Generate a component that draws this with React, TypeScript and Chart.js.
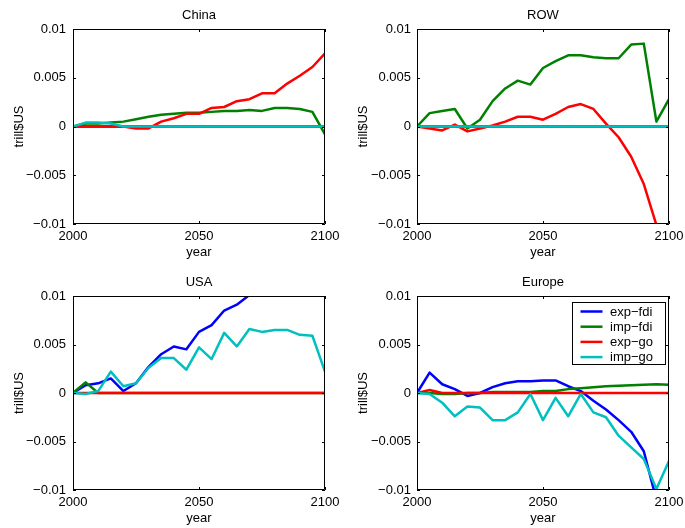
import React, { useEffect, useRef } from 'react';
import { Chart, registerables } from 'chart.js';

Chart.register(...registerables);

const FONT = '"Liberation Sans", Arial, Helvetica, sans-serif';

const years = [2000, 2005, 2010, 2015, 2020, 2025, 2030, 2035, 2040, 2045, 2050, 2055, 2060, 2065, 2070, 2075, 2080, 2085, 2090, 2095, 2100];

const seriesNames = ['exp−fdi', 'imp−fdi', 'exp−go', 'imp−go'];
const seriesColors = ['#0000ff', '#008000', '#ff0000', '#00bfbf'];

const xTicks = [2000, 2050, 2100];
const xTickLabels = ['2000', '2050', '2100'];
const yTicks = [0.01, 0.005, 0, -0.005, -0.01];
const yTickLabels = ['0.01', '0.005', '0', '−0.005', '−0.01'];

const panelTitles = ['China', 'ROW', 'USA', 'Europe'];
const xAxisLabel = 'year';
const yAxisLabel = 'trill$US';

// China
const chinaExpFdi = [0, 0, 0, 0, 0, 0, 0, 0, 0, 0, 0, 0, 0, 0, 0, 0, 0, 0, 0, 0, 0];
const chinaImpFdi = [0, 0.0003, 0.0003, 0.0004, 0.0005, 0.00075, 0.001, 0.0012, 0.0013, 0.0014, 0.0014, 0.0015, 0.0016, 0.0016, 0.0017, 0.0016, 0.0019, 0.0019, 0.0018, 0.0015, -0.0008];
const chinaExpGo = [0, 0, 0, 0, 0, -0.0002, -0.0002, 0.0005, 0.00085, 0.0013, 0.0013, 0.0019, 0.002, 0.0026, 0.0028, 0.0034, 0.0034, 0.0044, 0.0052, 0.0061, 0.0075];
const chinaImpGo = [0, 0.0004, 0.0004, 0.0003, 0, 0, 0, 0, 0, 0, 0, 0, 0, 0, 0, 0, 0, 0, 0, 0, 0];

// ROW
const rowExpFdi = [0, 0, 0, 0, 0, 0, 0, 0, 0, 0, 0, 0, 0, 0, 0, 0, 0, 0, 0, 0, 0];
const rowImpFdi = [0, 0.00137, 0.0016, 0.0018, -0.0002, 0.0007, 0.0026, 0.0039, 0.0047, 0.0043, 0.006, 0.0067, 0.0073, 0.0073, 0.0071, 0.007, 0.007, 0.0084, 0.0085, 0.0005, 0.0028];
const rowExpGo = [0, -0.0002, -0.0004, 0.0002, -0.0005, -0.0002, 0.0001, 0.0005, 0.001, 0.001, 0.0007, 0.0013, 0.002, 0.0023, 0.0018, 0.0003, -0.0011, -0.0031, -0.0059, -0.0101, -0.016];
const rowImpGo = [0, 0, 0, 0, 0, 0, 0, 0, 0, 0, 0, 0, 0, 0, 0, 0, 0, 0, 0, 0, 0];

// USA
const usaExpFdi = [0, 0.0008, 0.001, 0.0015, 0.0002, 0.001, 0.0027, 0.004, 0.0048, 0.0045, 0.0063, 0.007, 0.0085, 0.0091, 0.0101, 0.0108, 0.0115, 0.012, 0.0126, 0.013, 0.0134];
const usaImpFdi = [0, 0.0011, 0, 0, 0, 0, 0, 0, 0, 0, 0, 0, 0, 0, 0, 0, 0, 0, 0, 0, 0];
const usaExpGo = [0, 0, 0, 0, 0, 0, 0, 0, 0, 0, 0, 0, 0, 0, 0, 0, 0, 0, 0, 0, 0];
const usaImpGo = [0, -0.0001, 0.0002, 0.0022, 0.0007, 0.001, 0.0026, 0.0036, 0.0036, 0.0024, 0.0047, 0.0035, 0.0062, 0.0048, 0.0066, 0.0063, 0.0065, 0.0065, 0.006, 0.0059, 0.0022];

// Europe
const eurExpFdi = [0, 0.0021, 0.0009, 0.0004, -0.0003, 0, 0.0006, 0.001, 0.0012, 0.0012, 0.0013, 0.0013, 0.0007, 0.0002, -0.0008, -0.0017, -0.0028, -0.004, -0.006, -0.011, -0.0125];
const eurImpFdi = [0, 0, -0.0001, -0.0001, 0, 0, 0.0001, 0.0001, 0.0001, 0.0001, 0.0002, 0.0002, 0.0004, 0.0005, 0.0006, 0.0007, 0.00075, 0.0008, 0.00085, 0.0009, 0.00085];
const eurExpGo = [0, 0.0003, 0, 0, 0, 0, 0, 0, 0, 0, 0, 0, 0, 0, 0, 0, 0, 0, 0, 0, 0];
const eurImpGo = [0, -0.0001, -0.001, -0.0024, -0.0014, -0.0015, -0.0028, -0.0028, -0.002, -0.0001, -0.0028, -0.0005, -0.0024, -0.0001, -0.002, -0.0025, -0.0044, -0.0056, -0.0068, -0.0099, -0.007];

type Rect = { l: number; t: number; r: number; b: number };
type PanelDef = {
  title: string;
  series: number[][];
  x: number; y: number; w: number; h: number;
  plot: Rect;
  yPad: number;
  legend: boolean;
};

const panels: PanelDef[] = [
  { title: panelTitles[0], series: [chinaExpFdi, chinaImpFdi, chinaExpGo, chinaImpGo], x: 0, y: 0, w: 342, h: 264, plot: { l: 73, t: 29, r: 325, b: 224 }, yPad: 7, legend: false },
  { title: panelTitles[1], series: [rowExpFdi, rowImpFdi, rowExpGo, rowImpGo], x: 342, y: 0, w: 343, h: 264, plot: { l: 75, t: 29, r: 327, b: 224 }, yPad: 6, legend: false },
  { title: panelTitles[2], series: [usaExpFdi, usaImpFdi, usaExpGo, usaImpGo], x: 0, y: 264, w: 342, h: 264, plot: { l: 73, t: 32, r: 325, b: 226 }, yPad: 7, legend: false },
  { title: panelTitles[3], series: [eurExpFdi, eurImpFdi, eurExpGo, eurImpGo], x: 342, y: 264, w: 343, h: 264, plot: { l: 75, t: 32, r: 327, b: 226 }, yPad: 6, legend: true },
];

function framePlugin(p: PanelDef) {
  return {
    id: 'matlabFrame',
    afterDatasetsDraw(chart: any) {
      const { ctx, chartArea: a, scales } = chart;
      ctx.save();
      ctx.strokeStyle = '#000';
      ctx.lineWidth = 1;
      ctx.beginPath();
      ctx.rect(a.left + 0.5, a.top + 0.5, a.right - a.left - 1, a.bottom - a.top - 1);
      ctx.stroke();
      // inward ticks
      ctx.beginPath();
      for (const v of xTicks) {
        const px = Math.round(scales.x.getPixelForValue(v)) + 0.5;
        ctx.moveTo(px, a.bottom); ctx.lineTo(px, a.bottom - 3);
        ctx.moveTo(px, a.top); ctx.lineTo(px, a.top + 3);
      }
      for (const v of yTicks) {
        const py = Math.round(scales.y.getPixelForValue(v)) + 0.5;
        ctx.moveTo(a.left, py); ctx.lineTo(a.left + 3, py);
        ctx.moveTo(a.right, py); ctx.lineTo(a.right - 3, py);
      }
      ctx.stroke();

      ctx.fillStyle = '#000';
      ctx.font = `13px ${FONT}`;
      ctx.textAlign = 'center';
      ctx.textBaseline = 'alphabetic';
      const cx = (a.left + a.right) / 2;
      ctx.fillText(p.title, cx, a.top - 10);
      ctx.fillText(xAxisLabel, cx, a.bottom + 32);
      ctx.save();
      ctx.translate(a.left - 50, (a.top + a.bottom) / 2);
      ctx.rotate(-Math.PI / 2);
      ctx.fillText(yAxisLabel, 0, 0);
      ctx.restore();

      if (p.legend) {
        const ds = chart.data.datasets;
        const bw = 94, bh = 63;
        const bx = a.right - 3 - bw;
        const by = a.top + 6;
        ctx.fillStyle = '#fff';
        ctx.fillRect(bx, by, bw, bh);
        ctx.strokeStyle = '#000';
        ctx.lineWidth = 1;
        ctx.strokeRect(bx + 0.5, by + 0.5, bw - 1, bh - 1);
        ctx.textAlign = 'left';
        ctx.textBaseline = 'middle';
        ds.forEach((d: any, i: number) => {
          const ry = by + 9.5 + i * 15.2;
          ctx.strokeStyle = d.borderColor;
          ctx.lineWidth = 2.5;
          ctx.beginPath();
          ctx.moveTo(bx + 8.5, ry);
          ctx.lineTo(bx + 30.5, ry);
          ctx.stroke();
          ctx.fillStyle = '#000';
          ctx.fillText(d.label, bx + 38, ry + 0.5);
        });
      }
      ctx.restore();
    },
  };
}

function zeroPadding(s: any) {
  s.paddingLeft = 0;
  s.paddingRight = 0;
  s.paddingTop = 0;
  s.paddingBottom = 0;
}

function Panel({ p }: { p: PanelDef }) {
  const ref = useRef<HTMLCanvasElement | null>(null);
  useEffect(() => {
    if (!ref.current) return;
    const datasets = p.series.map((vals, i) => ({
      label: seriesNames[i],
      data: years.map((yr, j) => ({ x: yr, y: vals[j] })),
      borderColor: seriesColors[i],
      backgroundColor: seriesColors[i],
      borderWidth: 2.5,
      pointRadius: 0,
      tension: 0,
      fill: false,
      clip: 0,
      order: 4 - i,
      borderJoinStyle: 'round' as const,
    }));
    const chart = new Chart(ref.current, {
      type: 'line',
      data: { datasets },
      options: {
        animation: false,
        responsive: false,
        maintainAspectRatio: false,
        events: [],
        layout: {
          autoPadding: false,
          padding: { left: 0, top: p.plot.t, right: p.w - p.plot.r, bottom: 0 },
        },
        plugins: { legend: { display: false }, title: { display: false }, tooltip: { enabled: false } },
        scales: {
          x: {
            type: 'linear',
            min: 2000,
            max: 2100,
            grid: { display: false, drawTicks: false, tickLength: 0 },
            border: { display: false },
            afterBuildTicks: (s: any) => { s.ticks = xTicks.map((v) => ({ value: v })); },
            afterFit: (s: any) => { s.height = p.h - p.plot.b; zeroPadding(s); },
            ticks: {
              color: '#000',
              font: { family: FONT, size: 13 },
              padding: 5,
              maxRotation: 0,
              autoSkip: false,
              callback: (v: any) => xTickLabels[xTicks.indexOf(Number(v))] ?? '',
            },
          },
          y: {
            type: 'linear',
            min: -0.01,
            max: 0.01,
            grid: { display: false, drawTicks: false, tickLength: 0 },
            border: { display: false },
            afterBuildTicks: (s: any) => { s.ticks = yTicks.map((v) => ({ value: v })); },
            afterFit: (s: any) => { s.width = p.plot.l; zeroPadding(s); },
            ticks: {
              color: '#000',
              font: { family: FONT, size: 13 },
              padding: p.yPad,
              autoSkip: false,
              callback: (v: any) => {
                const idx = yTicks.findIndex((t) => Math.abs(t - Number(v)) < 1e-12);
                return idx >= 0 ? yTickLabels[idx] : '';
              },
            },
          },
        },
      },
      plugins: [framePlugin(p)],
    } as any);
    return () => chart.destroy();
  }, [p]);
  return (
    <canvas
      ref={ref}
      width={p.w}
      height={p.h}
      style={{ position: 'absolute', left: p.x, top: p.y, width: p.w, height: p.h, display: 'block' }}
    />
  );
}

export default function App() {
  return (
    <div style={{ position: 'absolute', left: 0, top: 0, width: 685, height: 528, background: '#fff', overflow: 'hidden' }}>
      {panels.map((p) => (
        <Panel key={p.title} p={p} />
      ))}
    </div>
  );
}
